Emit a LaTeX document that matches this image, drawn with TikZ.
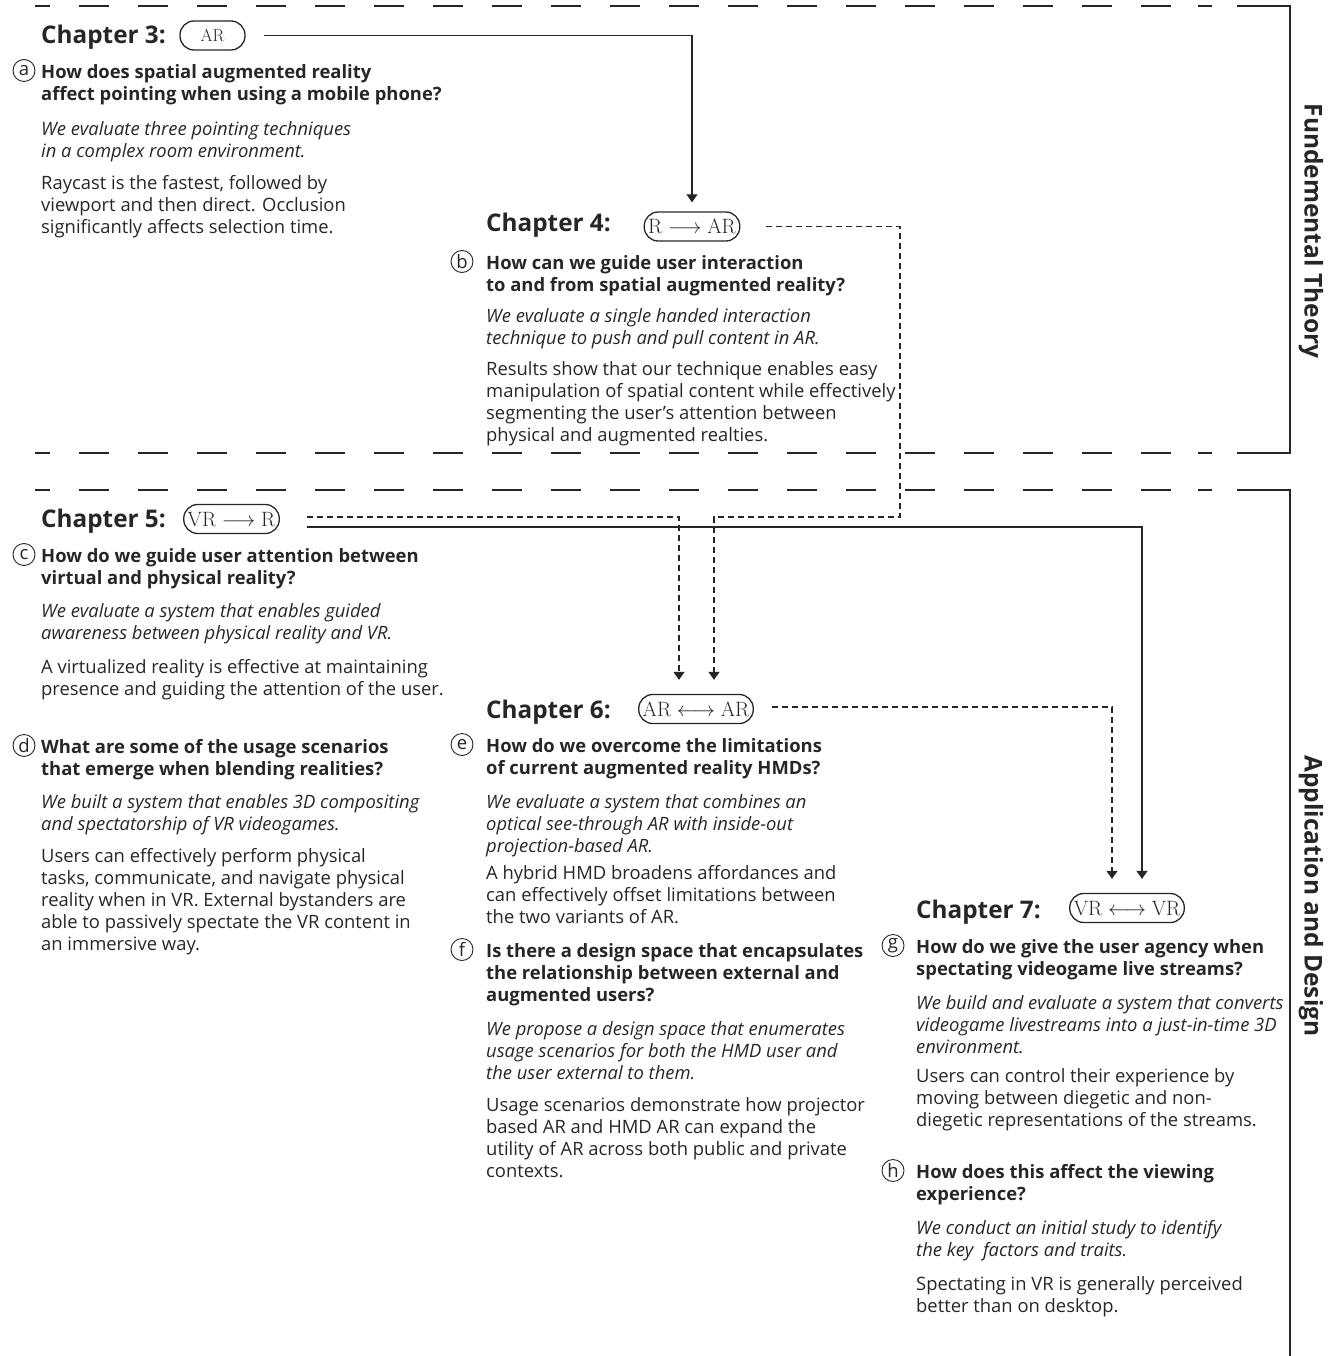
\documentclass[tikz,border=0pt]{standalone}
\usepackage[no-math]{fontspec}
\setmainfont{Open Sans}
\usetikzlibrary{arrows.meta}
\definecolor{ink}{HTML}{262626}
\begin{document}
\begin{tikzpicture}[x=1pt,y=-1pt,
  every node/.style={inner sep=0pt, text=ink},
  chap/.style={anchor=base west, font=\fontsize{24.3}{28}\selectfont\bfseries},
  txt/.style={anchor=north west, yshift=12.4pt, align=left},
  ques/.style={txt, font=\fontsize{18.4}{22}\selectfont\bfseries},
  desc/.style={txt, font=\fontsize{18.4}{22}\selectfont\itshape},
  res/.style={txt, font=\fontsize{18.4}{22}\selectfont},
  pill/.style={draw=ink, line width=1.3pt, rounded corners=14pt, minimum height=29pt,
    inner xsep=4pt, font=\fontsize{19.5}{19.5}\selectfont},
  tag/.style={draw=ink, circle, line width=0.9pt, minimum size=22pt,
    font=\fontsize{18.5}{18.5}\selectfont},
  side/.style={rotate=-90, font=\fontsize{24.5}{24.5}\selectfont\bfseries},
  frame/.style={line width=2.2pt, draw=ink},
  link/.style={line width=1.1pt, draw=ink, -{Triangle[width=11pt,length=8pt]}},
  dlink/.style={link, dash pattern=on 6pt off 4pt},
]
\useasboundingbox (0,0) rectangle (1338,1356);

% section frames: dashed top and bottom edges, solid right edge
\foreach \yy in {6,453,490} {
  \draw[frame] (35,\yy) -- (50,\yy);
  \foreach \k in {0,...,18} \draw[frame] ({79+59*\k},\yy) -- ({109+59*\k},\yy);
  \draw[frame] (1198,\yy) -- (1212,\yy);
}
\draw[frame] (1237,6) -- (1290,6) -- (1290,453) -- (1237,453);
\draw[frame] (1237,490) -- (1290,490) -- (1290,1356);

\node[side] (theory) at (1311,231) {Fundemental Theory};
\node[side] (design) at (1311,896) {Application and Design};

% ---------------- Chapter 3
\node[chap] (h3) at (41,44) {Chapter 3:};
\node[pill, minimum width=65pt, font=\fontsize{17.5}{17.5}\selectfont] (c3) at (212.5,35.5) {$\mathrm{AR}$};
\node[tag] (ta) at (24,70.5) {a};
\node[ques] (qa) at (41,75) {\strut How does spatial augmented reality\\affect pointing when using a mobile phone?};
\node[desc] (da) at (41,132) {\strut We evaluate three pointing techniques\\in a complex room environment.};
\node[res] (ra) at (41,186) {\strut Raycast is the fastest, followed by\\viewport and then direct. Occlusion\\significantly affects selection time.};

% ---------------- Chapter 4
\node[chap] (h4) at (486,232) {Chapter 4:};
\node[pill] (c4) at (692,226.5) {$\mathrm{R}\longrightarrow\mathrm{AR}$};
\node[tag] (tb) at (462,261.5) {b};
\node[ques] (qb) at (486,266) {\strut How can we guide user interaction\\to and from spatial augmented reality?};
\node[desc] (db) at (486,319) {\strut We evaluate a single handed interaction\\technique to push and pull content in AR.};
\node[res] (rb) at (486,372) {\strut Results show that our technique enables easy\\manipulation of spatial content while effectively\\segmenting the user’s attention between\\physical and augmented realties.};

% ---------------- Chapter 5
\node[chap] (h5) at (41,527) {Chapter 5:};
\node[pill] (c5) at (231.5,519) {$\mathrm{VR}\longrightarrow\mathrm{R}$};
\node[tag] (tc) at (24,554.5) {c};
\node[ques] (qc) at (41,559) {\strut How do we guide user attention between\\virtual and physical reality?};
\node[desc] (dc) at (41,614) {\strut We evaluate a system that enables guided\\awareness between physical reality and VR.};
\node[res] (rc) at (41,670) {\strut A virtualized reality is effective at maintaining\\presence and guiding the attention of the user.};

\node[tag] (td) at (24,745.5) {d};
\node[ques] (qd) at (41,750) {\strut What are some of the usage scenarios\\that emerge when blending realities?};
\node[desc] (dd) at (41,805) {\strut We built a system that enables 3D compositing\\and spectatorship of VR videogames.};
\node[res] (rd) at (41,859) {\strut Users can effectively perform physical\\tasks, communicate, and navigate physical\\reality when in VR. External bystanders are\\able to passively spectate the VR content in\\an immersive way.};

% ---------------- Chapter 6
\node[chap] (h6) at (486,718) {Chapter 6:};
\node[pill] (c6) at (696,709) {$\mathrm{AR}\longleftrightarrow\mathrm{AR}$};
\node[tag] (te) at (462,744.5) {e};
\node[ques] (qe) at (486,749) {\strut How do we overcome the limitations\\of current augmented reality HMDs?};
\node[desc] (de) at (486,805) {\strut We evaluate a system that combines an\\optical see-through AR with inside-out\\projection-based AR.};
\node[res] (re) at (486,876) {\strut A hybrid HMD broadens affordances and\\can effectively offset limitations between\\the two variants of AR.};

\node[tag] (tf) at (462,949.5) {f};
\node[ques] (qf) at (486,954) {\strut Is there a design space that encapsulates\\the relationship between external and\\augmented users?};
\node[desc] (df) at (486,1032) {\strut We propose a design space that enumerates\\usage scenarios for both the HMD user and\\the user external to them.};
\node[res] (rf) at (486,1108) {\strut Usage scenarios demonstrate how projector\\based AR and HMD AR can expand the\\utility of AR across both public and private\\contexts.};

% ---------------- Chapter 7
\node[chap] (h7) at (916,918) {Chapter 7:};
\node[pill] (c7) at (1127,908) {$\mathrm{VR}\longleftrightarrow\mathrm{VR}$};
\node[tag] (tg) at (893,945.5) {g};
\node[ques] (qg) at (916,950) {\strut How do we give the user agency when\\spectating videogame live streams?};
\node[desc] (dg) at (916,1006) {\strut We build and evaluate a system that converts\\videogame livestreams into a just-in-time 3D\\environment.};
\node[res] (rg) at (916,1079) {\strut Users can control their experience by\\moving between diegetic and non-\\diegetic representations of the streams.};

\node[tag] (th) at (893,1170.5) {h};
\node[ques] (qh) at (916,1175) {\strut How does this affect the viewing\\experience?};
\node[desc] (dh) at (916,1231) {\strut We conduct an initial study to identify\\the key \ factors and traits.};
\node[res] (rh) at (916,1287) {\strut Spectating in VR is generally perceived\\better than on desktop.};

% ---------------- connectors between chapters
\draw[link, shorten >=9pt] ([xshift=18pt]c3.east) -| (c4.north);
\draw[dlink, shorten >=14pt] ([xshift=26pt]c4.east) -| (900,517) -| ([xshift=18pt]c6.north);
\draw[dlink, shorten >=14pt] ([xshift=27pt,yshift=2pt]c5.east) -| ([xshift=-17pt]c6.north);
\draw[link, shorten >=14pt] ([xshift=27pt,yshift=-8pt]c5.east) -| ([xshift=15pt]c7.north);
\draw[dlink, shorten >=14pt] ([xshift=18pt,yshift=2pt]c6.east) -| ([xshift=-15pt]c7.north);
\end{tikzpicture}
\end{document}
